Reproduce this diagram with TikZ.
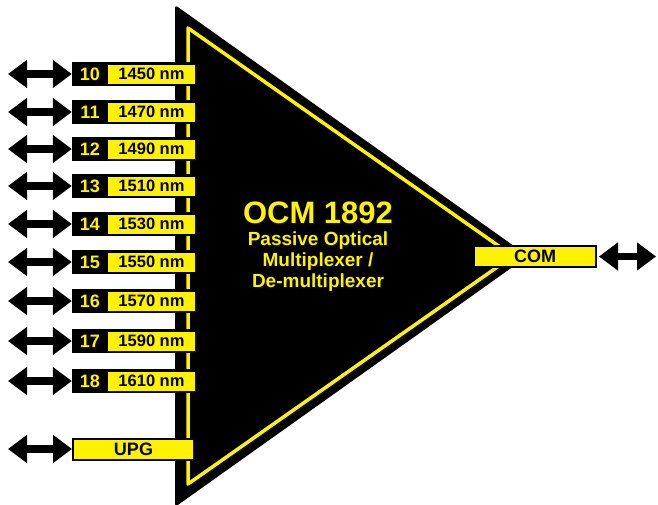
\documentclass[tikz,border=0pt]{standalone}
\usepackage{fontspec}
\setmainfont{Liberation Sans}
\usetikzlibrary{arrows.meta,positioning}

\tikzset{
  numbox/.style={fill=black, text=yellow, minimum width=36pt, minimum height=24pt,
                 inner sep=0pt, font=\bfseries\fontsize{18}{18}\selectfont},
  wlbox/.style={fill=yellow, draw=black, line width=2.5pt, text=black, minimum width=89.5pt,
                minimum height=21.5pt, inner sep=0pt, font=\bfseries\fontsize{16.5}{16.5}\selectfont},
  portbox/.style={fill=yellow, draw=black, line width=2pt, text=black, minimum height=21pt,
                  inner sep=0pt, font=\bfseries\fontsize{18}{18}\selectfont},
  port/.style={line width=7.5pt, {Triangle[length=19pt,width=27pt]}-{Triangle[length=19pt,width=27pt]}}
}

\begin{document}
\begin{tikzpicture}[x=1pt, y=-1pt]
    \useasboundingbox (0,0) rectangle (658,504);

    % multiplexer body
    \fill[black, rounded corners=3pt] (175,5) -- (528,256) -- (175,507) -- cycle;
    \draw[yellow, line width=3.5pt, line join=round] (188,28) -- (513,256) -- (188,484) -- cycle;

    \node (Title) at (318,213) [text=yellow, font=\bfseries\fontsize{31}{31}\selectfont] {OCM 1892};
    \node (Sub) at (318,262) [text=yellow, align=center, font=\bfseries\fontsize{19}{21}\selectfont]
        {Passive Optical\\Multiplexer /\\De-multiplexer};

    % channel ports
    \node (w10) at (151.5,74) [wlbox] {1450 nm};
    \node (n10) at (90,74) [numbox] {10};
    \coordinate (a10) at (8,74);
    \draw[port] (a10) -- (n10.west);

    \node (w11) at (151.5,112) [wlbox] {1470 nm};
    \node (n11) at (90,112) [numbox] {11};
    \coordinate (a11) at (8,112);
    \draw[port] (a11) -- (n11.west);

    \node (w12) at (151.5,149) [wlbox] {1490 nm};
    \node (n12) at (90,149) [numbox] {12};
    \coordinate (a12) at (8,149);
    \draw[port] (a12) -- (n12.west);

    \node (w13) at (151.5,186) [wlbox] {1510 nm};
    \node (n13) at (90,186) [numbox] {13};
    \coordinate (a13) at (8,186);
    \draw[port] (a13) -- (n13.west);

    \node (w14) at (151.5,224) [wlbox] {1530 nm};
    \node (n14) at (90,224) [numbox] {14};
    \coordinate (a14) at (8,224);
    \draw[port] (a14) -- (n14.west);

    \node (w15) at (151.5,262) [wlbox] {1550 nm};
    \node (n15) at (90,262) [numbox] {15};
    \coordinate (a15) at (8,262);
    \draw[port] (a15) -- (n15.west);

    \node (w16) at (151.5,301) [wlbox] {1570 nm};
    \node (n16) at (90,301) [numbox] {16};
    \coordinate (a16) at (8,301);
    \draw[port] (a16) -- (n16.west);

    \node (w17) at (151.5,341) [wlbox] {1590 nm};
    \node (n17) at (90,341) [numbox] {17};
    \coordinate (a17) at (8,341);
    \draw[port] (a17) -- (n17.west);

    \node (w18) at (151.5,381) [wlbox] {1610 nm};
    \node (n18) at (90,381) [numbox] {18};
    \coordinate (a18) at (8,381);
    \draw[port] (a18) -- (n18.west);

    % upgrade and common ports
    \node (Upg) at (133.5,449) [portbox, minimum width=121pt] {UPG};
    \coordinate (aUpg) at (8,449);
    \draw[port] (aUpg) -- (Upg.west);

    \node (Com) at (535,256.5) [portbox, minimum width=122pt] {COM};
    \coordinate (aCom) at (656,256.5);
    \draw[port, shorten <=2pt] (Com.east) -- (aCom);
\end{tikzpicture}
\end{document}
